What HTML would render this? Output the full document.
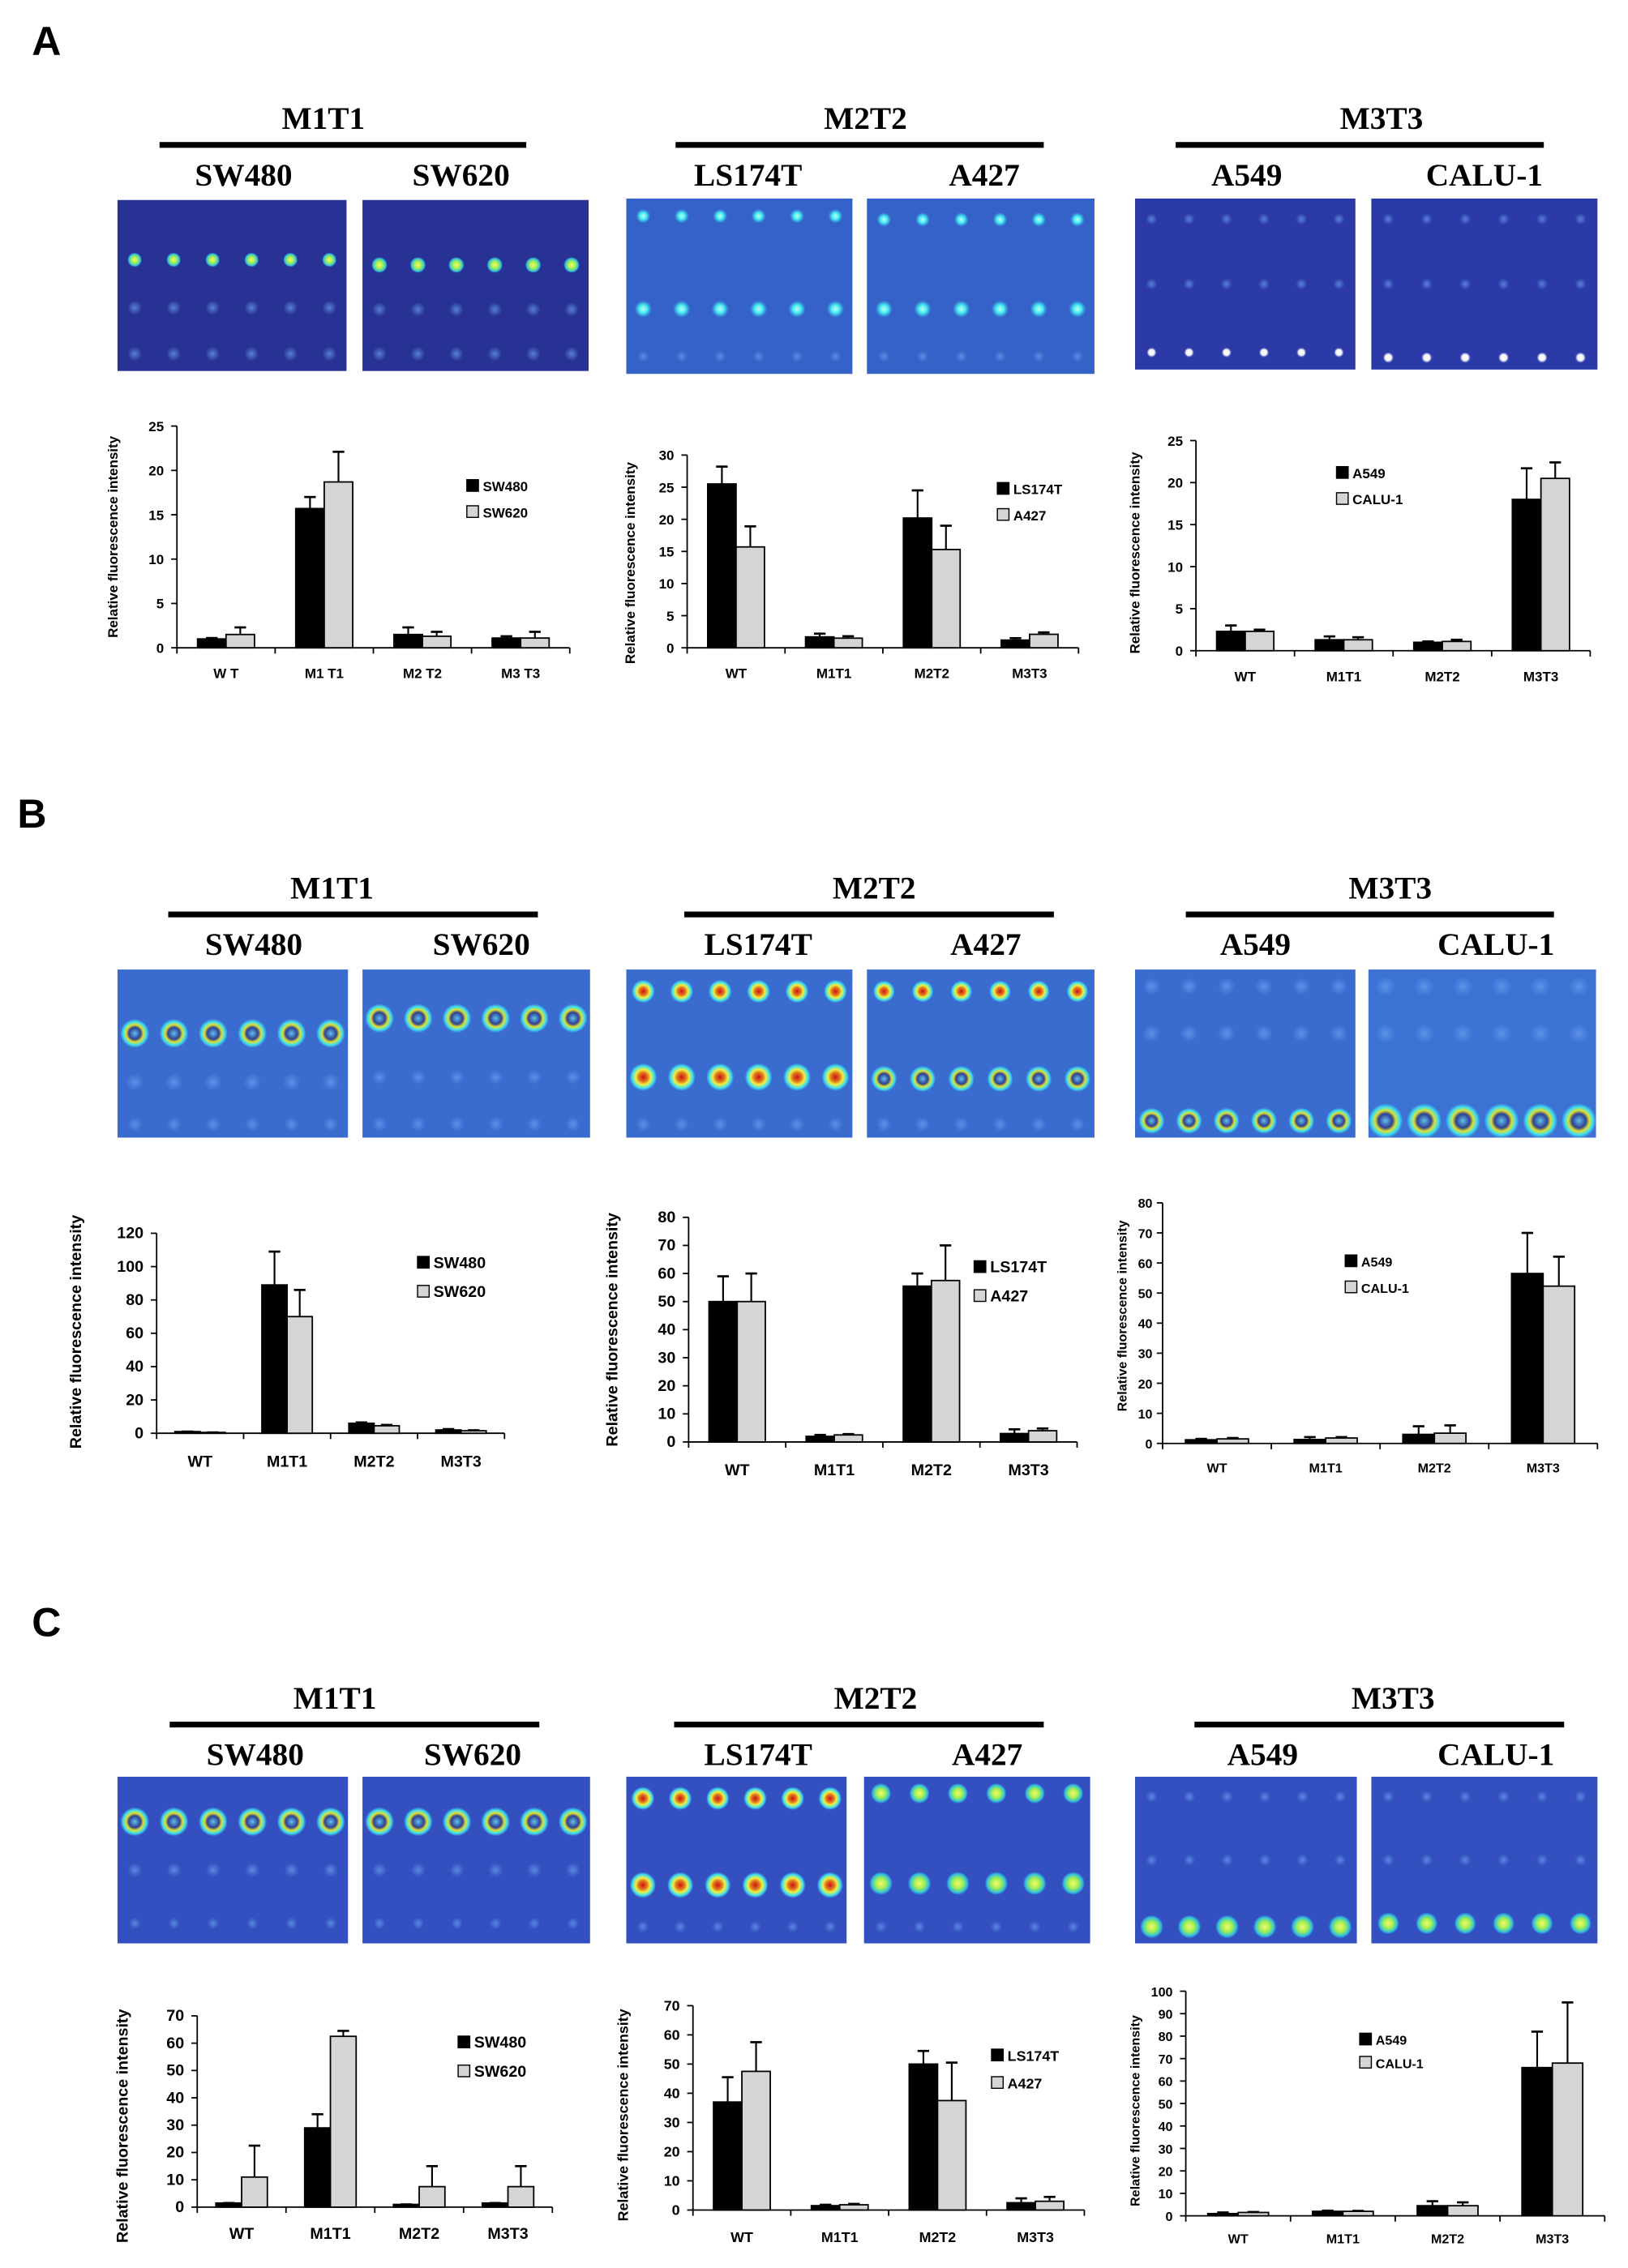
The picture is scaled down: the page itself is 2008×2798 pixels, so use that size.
<!DOCTYPE html>
<html><head><meta charset="utf-8"><style>
html,body{margin:0;padding:0;background:#fff}
svg{display:block}
</style></head><body>
<svg id="fig" xmlns="http://www.w3.org/2000/svg" width="2008" height="2798" viewBox="0 0 1123 1565" font-family="Liberation Sans, Arial, sans-serif">
<defs>
<radialGradient id="gBright"><stop offset="0" stop-color="#d01010"/><stop offset="0.35" stop-color="#e08020"/><stop offset="0.55" stop-color="#f0f040"/><stop offset="0.8" stop-color="#40e0f0"/><stop offset="1" stop-color="#40e0f0" stop-opacity="0"/></radialGradient>
<radialGradient id="gRing"><stop offset="0" stop-color="#60c0f0"/><stop offset="0.4" stop-color="#304090"/><stop offset="0.6" stop-color="#e0e030"/><stop offset="0.8" stop-color="#40e0f0"/><stop offset="1" stop-color="#40e0f0" stop-opacity="0"/></radialGradient>
<radialGradient id="gYellow"><stop offset="0" stop-color="#f4f870"/><stop offset="0.45" stop-color="#a0f050"/><stop offset="0.8" stop-color="#30c0e0"/><stop offset="1" stop-color="#30c0e0" stop-opacity="0"/></radialGradient>
<radialGradient id="gCyan"><stop offset="0" stop-color="#c0fff0"/><stop offset="0.5" stop-color="#40e8f0"/><stop offset="1" stop-color="#40c0f0" stop-opacity="0"/></radialGradient>
<radialGradient id="gWhite"><stop offset="0" stop-color="#ffffff"/><stop offset="0.6" stop-color="#f0f0f0"/><stop offset="1" stop-color="#8090ff" stop-opacity="0"/></radialGradient>
<radialGradient id="gDim"><stop offset="0" stop-color="#6aa0f0" stop-opacity="0.7"/><stop offset="1" stop-color="#6aa0f0" stop-opacity="0"/></radialGradient>
</defs>
<g id="root"></g>
</svg>
<script>
// ---------- chart data ----------
const catsA1 = ["W T","M1 T1","M2 T2","M3 T3"];
const A1_sw480 = [1.0,15.7,1.5,1.1];
const A1_sw480_err = [0.1,1.3,0.8,0.2];
const A1_sw620 = [1.5,18.7,1.3,1.1];
const A1_sw620_err = [0.8,3.4,0.5,0.7];
const A1_ticks = [0,5,10,15,20,25];

const catsA2 = ["WT","M1T1","M2T2","M3T3"];
const A2_ls174t = [25.5,1.7,20.2,1.2];
const A2_ls174t_err = [2.7,0.5,4.3,0.3];
const A2_a427 = [15.7,1.5,15.3,2.1];
const A2_a427_err = [3.2,0.3,3.7,0.3];
const A2_ticks = [0,5,10,15,20,25,30];

const catsA3 = ["WT","M1T1","M2T2","M3T3"];
const A3_a549 = [2.3,1.3,1.0,18.0];
const A3_a549_err = [0.7,0.4,0.1,3.7];
const A3_calu1 = [2.3,1.3,1.1,20.5];
const A3_calu1_err = [0.2,0.3,0.2,1.9];
const A3_ticks = [0,5,10,15,20,25];

const catsB1 = ["WT","M1T1","M2T2","M3T3"];
const B1_sw480 = [1.0,89,6,2];
const B1_sw480_err = [0,20,0.5,0.5];
const B1_sw620 = [0.5,70,4.5,1.5];
const B1_sw620_err = [0,16,0.5,0.3];
const B1_ticks = [0,20,40,60,80,100,120];

const catsB2 = ["WT","M1T1","M2T2","M3T3"];
const B2_ls174t = [50,2,55.5,3];
const B2_ls174t_err = [9,0.5,4.5,1.5];
const B2_a427 = [50,2.5,57.5,4];
const B2_a427_err = [10,0.3,12.5,0.8];
const B2_ticks = [0,10,20,30,40,50,60,70,80];

const catsB3 = ["WT","M1T1","M2T2","M3T3"];
const B3_a549 = [1.2,1.3,3,56.5];
const B3_a549_err = [0.3,0.8,2.7,13.5];
const B3_calu1 = [1.5,1.8,3.4,52.3];
const B3_calu1_err = [0.3,0.3,2.6,9.8];
const B3_ticks = [0,10,20,30,40,50,60,70,80];

const catsC1 = ["WT","M1T1","M2T2","M3T3"];
const C1_sw480 = [1.5,29,1,1.5];
const C1_sw480_err = [0,5,0,0];
const C1_sw620 = [11,62.5,7.5,7.5];
const C1_sw620_err = [11.5,2,7.5,7.5];
const C1_ticks = [0,10,20,30,40,50,60,70];

const catsC2 = ["WT","M1T1","M2T2","M3T3"];
const C2_ls174t = [37,1.5,50,2.5];
const C2_ls174t_err = [8.5,0.3,4.5,1.5];
const C2_a427 = [47.5,1.8,37.5,3];
const C2_a427_err = [10,0.3,13,1.5];
const C2_ticks = [0,10,20,30,40,50,60,70];

const catsC3 = ["WT","M1T1","M2T2","M3T3"];
const C3_a549 = [1,2,4.5,66];
const C3_a549_err = [0.5,0.3,2,16];
const C3_calu1 = [1.5,2,4.5,68];
const C3_calu1_err = [0.2,0.2,1.5,27];
const C3_ticks = [0,10,20,30,40,50,60,70,80,90,100];

// ---------- helpers ----------
const NS="http://www.w3.org/2000/svg";
const root=document.getElementById('root');
function el(tag,attrs,parent,txt){const e=document.createElementNS(NS,tag);for(const k in attrs)e.setAttribute(k,attrs[k]);if(txt!==undefined)e.textContent=txt;(parent||root).appendChild(e);return e;}

[["A",32,38],["B",22,571],["C",32,1129]].forEach(p=>{
  const t=el('text',{x:p[1],y:p[2],'font-size':28,'font-weight':'bold','text-anchor':'middle'},root,p[0]);
  
  
});

function header(group,gx,y,lx1,lx2,s1,s1x,s2,s2x){
  const g=el('g',{});
  
  
  el('text',{x:gx,y:y,'font-size':22,'font-weight':'bold','text-anchor':'middle','font-family':'Liberation Serif, serif'},g,group);
  el('rect',{x:lx1,y:y+9,width:lx2-lx1,height:4,fill:'#000'},g);
  el('text',{x:s1x,y:y+39,'font-size':22,'font-weight':'bold','text-anchor':'middle','font-family':'Liberation Serif, serif'},g,s1);
  el('text',{x:s2x,y:y+39,'font-size':22,'font-weight':'bold','text-anchor':'middle','font-family':'Liberation Serif, serif'},g,s2);
}
header("M1T1",223,89,110,363,"SW480",168,"SW620",318);
header("M2T2",597,89,466,720,"LS174T",516,"A427",679);
header("M3T3",953,89,811,1065,"A549",860,"CALU-1",1024);
header("M1T1",229,620,116,371,"SW480",175,"SW620",332);
header("M2T2",603,620,472,727,"LS174T",523,"A427",680);
header("M3T3",959,620,818,1072,"A549",866,"CALU-1",1032);
header("M1T1",231,1179,117,372,"SW480",176,"SW620",326);
header("M2T2",604,1179,465,720,"LS174T",523,"A427",681);
header("M3T3",961,1179,824,1079,"A549",871,"CALU-1",1032);

function spots(name,x,y,w,h,bg,rows){
  const g=el('g',{});
  
  
  el('rect',{x:x,y:y,width:w,height:h,fill:bg},g);
  rows.forEach(r=>{for(let i=0;i<6;i++){const cx=x+w*(0.075+i*0.17);el('circle',{cx:cx,cy:y+h*r[0],r:r[2],fill:'url(#'+r[1]+')'},g);}});
}
const dA='#283294', dA2='#3462c8', dA3='#2b3aa6';
spots('blot-a-sw480',81,138,158,118,dA,[[0.35,'gYellow',5],[0.63,'gDim',5],[0.9,'gDim',5]]);
spots('blot-a-sw620',250,138,156,118,dA,[[0.38,'gYellow',5.5],[0.64,'gDim',5],[0.9,'gDim',5]]);
spots('blot-a-ls174t',432,137,156,121,dA2,[[0.1,'gCyan',5],[0.63,'gCyan',6],[0.9,'gDim',4]]);
spots('blot-a-a427',598,137,157,121,dA2,[[0.12,'gCyan',5],[0.63,'gCyan',6],[0.9,'gDim',4]]);
spots('blot-a-a549',783,137,152,118,dA3,[[0.12,'gDim',4],[0.5,'gDim',4],[0.9,'gWhite',3.5]]);
spots('blot-a-calu1',946,137,156,118,dA3,[[0.12,'gDim',4],[0.5,'gDim',4],[0.93,'gWhite',3.8]]);
const dB='#3a6cd0';
spots('blot-b-sw480',81,669,159,116,dB,[[0.38,'gRing',10],[0.67,'gDim',6],[0.92,'gDim',5]]);
spots('blot-b-sw620',250,669,157,116,dB,[[0.29,'gRing',10],[0.64,'gDim',5],[0.92,'gDim',5]]);
spots('blot-b-ls174t',432,669,156,116,dB,[[0.13,'gBright',8],[0.64,'gBright',9.5],[0.92,'gDim',5]]);
spots('blot-b-a427',598,669,157,116,dB,[[0.13,'gBright',7.5],[0.65,'gRing',9],[0.92,'gDim',5]]);
spots('blot-b-a549',783,669,152,116,dB,[[0.1,'gDim',6],[0.38,'gDim',6],[0.9,'gRing',9]]);
spots('blot-b-calu1',944,669,157,116,'#3c72d4',[[0.1,'gDim',7],[0.38,'gDim',7],[0.9,'gRing',12]]);
const dC='#3450c0';
spots('blot-c-sw480',81,1226,159,115,dC,[[0.27,'gRing',10],[0.56,'gDim',5],[0.88,'gDim',4]]);
spots('blot-c-sw620',250,1226,157,115,dC,[[0.27,'gRing',10],[0.56,'gDim',5],[0.88,'gDim',4]]);
spots('blot-c-ls174t',432,1226,152,115,dC,[[0.13,'gBright',8],[0.65,'gBright',9],[0.9,'gDim',4]]);
spots('blot-c-a427',596,1226,156,115,dC,[[0.1,'gYellow',7],[0.64,'gYellow',8],[0.9,'gDim',4]]);
spots('blot-c-a549',783,1226,153,115,dC,[[0.12,'gDim',4],[0.5,'gDim',4],[0.9,'gYellow',8]]);
spots('blot-c-calu1',946,1226,156,115,dC,[[0.12,'gDim',4],[0.5,'gDim',4],[0.88,'gYellow',7.5]]);

function chart(id,L,cats,s1,e1,s2,e2,ticks,names){
  const g=el('g',{});
  
  
  const max=ticks[ticks.length-1];
  const yS=v=>L.y0-(v/max)*(L.y0-L.yTop);
  const n=cats.length, step=(L.x1-L.x0)/n;
  const xS=i=>L.x0+step*(i+0.5);
  const bw=step*0.29;
  el('line',{x1:L.x0,y1:L.yTop,x2:L.x0,y2:L.y0,stroke:'#000','stroke-width':1},g);
  el('line',{x1:L.x0,y1:L.y0,x2:L.x1,y2:L.y0,stroke:'#000','stroke-width':1},g);
  ticks.forEach(t=>{
    el('line',{x1:L.x0-4,y1:yS(t),x2:L.x0,y2:yS(t),stroke:'#000'},g);
    const tl=el('text',{x:L.x0-(L.tg||9),y:yS(t)+3.5,'font-size':L.fs,'font-weight':'bold','text-anchor':'end'},g,String(t));
    
    
  });
  for(let i=0;i<=n;i++) el('line',{x1:L.x0+step*i,y1:L.y0,x2:L.x0+step*i,y2:L.y0+4,stroke:'#000'},g);
  const yt=el('text',{x:0,y:0,'font-size':L.fs,'font-weight':'bold','text-anchor':'middle',transform:`translate(${L.yl},${(L.y0+L.yTop)/2+L.ylOff}) rotate(-90)`},g,'Relative fluorescence intensity');
  
  
  cats.forEach((c,i)=>{
    const t=el('text',{x:xS(i),y:L.y0+L.xlOff,'font-size':L.fs,'font-weight':'bold','text-anchor':'middle'},g,c);
    
    
    [[s1,e1,'#000',-bw],[s2,e2,'#d4d6d6',0]].forEach((s,k)=>{
      const v=s[0][i], e=s[1][i], bx=xS(i)+s[3];
      const top=yS(v+e);
      const eb=el('line',{x1:bx+bw/2,y1:yS(v),x2:bx+bw/2,y2:top,stroke:'#000','stroke-width':1.2},g);
      
      
      el('line',{x1:bx+bw/2-4,y1:top,x2:bx+bw/2+4,y2:top,stroke:'#000','stroke-width':1.5},g);
      const r=el('rect',{x:bx,y:yS(v),width:bw,height:L.y0-yS(v),fill:s[2],stroke:'#000','stroke-width':1},g);
      
      
    });
  });
  names.forEach((nm,k)=>{
    const lg=el('g',{},g);
    
    
    const ly=L.leg[1]+k*L.legGap;
    el('rect',{x:L.leg[0],y:ly-8,width:8,height:8,fill:k?'#d4d6d6':'#000',stroke:'#000','stroke-width':0.8},lg);
    el('text',{x:L.leg[0]+11,y:ly,'font-size':L.fs,'font-weight':'bold'},lg,nm);
  });
}
chart('a-m1t1',{x0:122,x1:393,y0:447,yTop:294,fs:9.5,yl:81,ylOff:0,xlOff:21,leg:[322,339],legGap:18},catsA1,A1_sw480,A1_sw480_err,A1_sw620,A1_sw620_err,A1_ticks,["SW480","SW620"]);
chart('a-m2t2',{x0:474,x1:744,y0:447,yTop:314,fs:9.5,yl:438,ylOff:8,xlOff:21,leg:[688,341],legGap:18},catsA2,A2_ls174t,A2_ls174t_err,A2_a427,A2_a427_err,A2_ticks,["LS174T","A427"]);
chart('a-m3t3',{x0:825,x1:1097,y0:449,yTop:304,fs:9.5,yl:786,ylOff:5,xlOff:21,leg:[922,330],legGap:18},catsA3,A3_a549,A3_a549_err,A3_calu1,A3_calu1_err,A3_ticks,["A549","CALU-1"]);
chart('b-m1t1',{x0:108,x1:348,y0:989,yTop:851,fs:11,yl:56,ylOff:-1,xlOff:23,leg:[288,875],legGap:20},catsB1,B1_sw480,B1_sw480_err,B1_sw620,B1_sw620_err,B1_ticks,["SW480","SW620"]);
chart('b-m2t2',{x0:475,x1:743,y0:995,yTop:840,fs:11,yl:426,ylOff:0,xlOff:23,leg:[672,878],legGap:20},catsB2,B2_ls174t,B2_ls174t_err,B2_a427,B2_a427_err,B2_ticks,["LS174T","A427"]);
chart('b-m3t3',{x0:802,x1:1102,y0:996,yTop:830,fs:9,tg:7,yl:777,ylOff:-5,xlOff:20,leg:[928,874],legGap:18},catsB3,B3_a549,B3_a549_err,B3_calu1,B3_calu1_err,B3_ticks,["A549","CALU-1"]);
chart('c-m1t1',{x0:136,x1:381,y0:1523,yTop:1391,fs:11,yl:88,ylOff:10,xlOff:22,leg:[316,1413],legGap:20},catsC1,C1_sw480,C1_sw480_err,C1_sw620,C1_sw620_err,C1_ticks,["SW480","SW620"]);
chart('c-m2t2',{x0:478,x1:748,y0:1525,yTop:1384,fs:10,yl:433,ylOff:5,xlOff:22,leg:[684,1422],legGap:19},catsC2,C2_ls174t,C2_ls174t_err,C2_a427,C2_a427_err,C2_ticks,["LS174T","A427"]);
chart('c-m3t3',{x0:818,x1:1107,y0:1529,yTop:1374,fs:9,yl:786,ylOff:5,xlOff:19,leg:[938,1411],legGap:16},catsC3,C3_a549,C3_a549_err,C3_calu1,C3_calu1_err,C3_ticks,["A549","CALU-1"]);
</script>
</body></html>
